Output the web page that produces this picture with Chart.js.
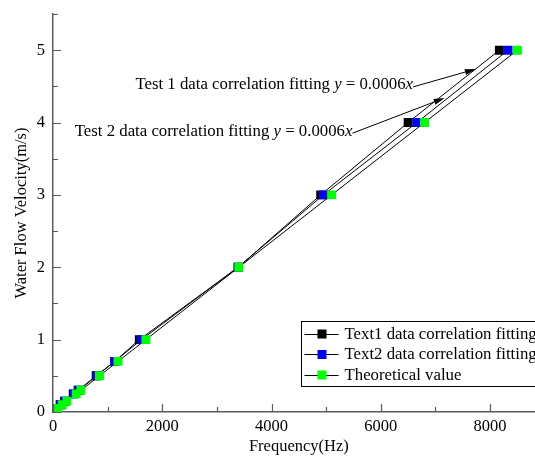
<!DOCTYPE html>
<html>
<head>
<meta charset="utf-8">
<script src="https://cdn.jsdelivr.net/npm/chart.js@4.4.1/dist/chart.umd.min.js"></script>
<style>
  html, body { margin: 0; padding: 0; overflow: hidden; background: #fff; }
  #wrap { width: 551px; height: 466px; }
</style>
</head>
<body>
<div id="wrap"><canvas id="flowChart" width="551" height="466"></canvas></div>
<script>
// flow velocity (m/s) for every measuring point
const velocity = [0.05, 0.1, 0.15, 0.25, 0.3, 0.5, 0.7, 1, 2, 3, 4, 5];
// frequency (Hz) read for each series
const test1Freq = [50, 130, 210, 370, 460, 790, 1130, 1580, 3390, 4900, 6500, 8170];
const test2Freq = [60, 140, 220, 380, 470, 800, 1130, 1620, 3385, 4950, 6660, 8330];
const theoryFreq = [85, 170, 255, 425, 510, 850, 1190, 1700, 3400, 5100, 6800, 8500];

const seriesNames = ['Text1 data correlation fitting', 'Text2 data correlation fitting', 'Theoretical value'];
const xTickLabels = [0, 2000, 4000, 6000, 8000];
const yTickLabels = [0, 1, 2, 3, 4, 5];

const FONT = '"Liberation Serif", "Times New Roman", serif';
const AXIS_COLOR = '#5a5a5a';
const markerColors = ['#000000', '#0000ff', '#00ff00'];

function toPoints(freq) {
    return freq.map((f, i) => ({ x: f, y: velocity[i] }));
}

// inward major / minor ticks like the original plot
const inwardTicks = {
    id: 'inwardTicks',
    afterDraw(chart) {
        const ctx = chart.ctx;
        const xs = chart.scales.x, ys = chart.scales.y;
        const area = chart.chartArea;
        ctx.save();
        ctx.strokeStyle = AXIS_COLOR;
        ctx.lineWidth = 1.2;
        ctx.beginPath();
        for (let v = 0; v <= 9000; v += 1000) {
            const px = Math.round(xs.getPixelForValue(v)) + 0.5;
            const len = v % 2000 === 0 ? 8 : 5;
            ctx.moveTo(px, area.bottom);
            ctx.lineTo(px, area.bottom - len);
        }
        for (let v = 0; v <= 5.5; v += 0.5) {
            const py = Math.round(ys.getPixelForValue(v)) + 0.5;
            const len = Number.isInteger(v) ? 8 : 5;
            ctx.moveTo(area.left, py);
            ctx.lineTo(area.left + len, py);
        }
        ctx.stroke();
        ctx.restore();
    }
};

function drawArrow(ctx, x1, y1, x2, y2) {
    const ang = Math.atan2(y2 - y1, x2 - x1);
    const len = 11, half = 3;
    ctx.beginPath();
    ctx.moveTo(x1, y1);
    ctx.lineTo(x2 - len * Math.cos(ang), y2 - len * Math.sin(ang));
    ctx.stroke();
    ctx.beginPath();
    ctx.moveTo(x2, y2);
    ctx.lineTo(x2 - len * Math.cos(ang) + half * Math.sin(ang), y2 - len * Math.sin(ang) - half * Math.cos(ang));
    ctx.lineTo(x2 - len * Math.cos(ang) - half * Math.sin(ang), y2 - len * Math.sin(ang) + half * Math.cos(ang));
    ctx.closePath();
    ctx.fill();
}

// text pieces: [string, italic]
function drawRich(ctx, parts, rightX, y, size) {
    let total = 0;
    parts.forEach(p => {
        ctx.font = (p[1] ? 'italic ' : '') + size + 'px ' + FONT;
        total += ctx.measureText(p[0]).width;
    });
    let x = rightX - total;
    parts.forEach(p => {
        ctx.font = (p[1] ? 'italic ' : '') + size + 'px ' + FONT;
        ctx.fillText(p[0], x, y);
        x += ctx.measureText(p[0]).width;
    });
}

const fitNotes = {
    id: 'fitNotes',
    afterDraw(chart) {
        const ctx = chart.ctx;
        const xs = chart.scales.x, ys = chart.scales.y;
        const notes = [
            { label: 'Test 1', at: [6590, 4.52], tip: [7740, 4.74] },
            { label: 'Test 2', at: [5480, 3.88], tip: [7170, 4.34] }
        ];
        ctx.save();
        ctx.fillStyle = '#000';
        ctx.strokeStyle = '#000';
        ctx.lineWidth = 1;
        ctx.textBaseline = 'middle';
        notes.forEach(n => {
            const tx = xs.getPixelForValue(n.at[0]);
            const ty = ys.getPixelForValue(n.at[1]);
            drawRich(ctx, [[n.label + ' data correlation fitting ', false], ['y', true], [' = 0.0006', false], ['x', true]], tx, ty, 16.8);
            drawArrow(ctx, tx, ty + 2, xs.getPixelForValue(n.tip[0]), ys.getPixelForValue(n.tip[1]));
        });
        ctx.restore();
    }
};

const boxLegend = {
    id: 'boxLegend',
    afterDraw(chart) {
        const ctx = chart.ctx;
        const left = 301.5, top = 321.5, w = 260, rowH = 20.5;
        ctx.save();
        ctx.strokeStyle = '#000';
        ctx.lineWidth = 1;
        ctx.strokeRect(left, top, w, 65);
        ctx.font = '16.8px ' + FONT;
        ctx.textBaseline = 'middle';
        seriesNames.forEach((name, i) => {
            const cy = top + 12 + i * rowH;
            ctx.beginPath();
            ctx.moveTo(left + 3, Math.round(cy) + 0.5);
            ctx.lineTo(left + 37, Math.round(cy) + 0.5);
            ctx.stroke();
            ctx.fillStyle = markerColors[i];
            ctx.fillRect(left + 16, cy - 4, 9, 9);
            ctx.fillStyle = '#000';
            ctx.fillText(name, left + 43, cy + 1);
        });
        ctx.restore();
    }
};

function makeSet(freq, i) {
    return {
        label: seriesNames[i],
        data: toPoints(freq),
        borderColor: '#000',
        borderWidth: 1,
        pointStyle: 'rect',
        pointRadius: 6.3,
        pointHoverRadius: 6.3,
        pointBackgroundColor: markerColors[i],
        pointBorderWidth: 0,
        order: 3 - i
    };
}

const tickFont = { family: FONT, size: 16.5 };

new Chart(document.getElementById('flowChart').getContext('2d'), {
    type: 'line',
    data: {
        datasets: [makeSet(test1Freq, 0), makeSet(test2Freq, 1), makeSet(theoryFreq, 2)]
    },
    options: {
        responsive: false,
        animation: false,
        layout: { padding: { top: 14, right: 0, left: 0, bottom: 0 } },
        plugins: { legend: { display: false }, tooltip: { enabled: false } },
        scales: {
            x: {
                type: 'linear',
                min: 0,
                max: 9000,
                grid: { display: false, drawTicks: false },
                border: { display: true, color: AXIS_COLOR, width: 1.5 },
                ticks: {
                    stepSize: 2000,
                    padding: 5,
                    color: '#000',
                    font: tickFont,
                    callback: (v) => String(v)
                },
                afterBuildTicks(scale) {
                    scale.ticks = xTickLabels.map(v => ({ value: v }));
                },
                afterFit(scale) {
                    scale.height = 54;
                    scale.paddingLeft = 0;
                    scale.paddingRight = 0;
                },
                title: {
                    display: true,
                    text: 'Frequency(Hz)',
                    color: '#000',
                    font: tickFont,
                    padding: { top: 0, bottom: 9 }
                }
            },
            y: {
                min: 0,
                max: 5.5,
                grid: { display: false, drawTicks: false },
                border: { display: true, color: AXIS_COLOR, width: 1.5 },
                ticks: {
                    stepSize: 1,
                    padding: 8,
                    color: '#000',
                    font: tickFont,
                    callback: (v) => String(v)
                },
                afterBuildTicks(scale) {
                    scale.ticks = yTickLabels.map(v => ({ value: v }));
                },
                afterFit(scale) {
                    scale.width = 53;
                    scale.paddingTop = 0;
                    scale.paddingBottom = 0;
                },
                title: {
                    display: true,
                    text: 'Water Flow Velocity(m/s)',
                    color: '#000',
                    font: tickFont,
                    padding: { top: 12, bottom: 0 }
                }
            }
        }
    },
    plugins: [inwardTicks, fitNotes, boxLegend]
});
</script>
</body>
</html>
